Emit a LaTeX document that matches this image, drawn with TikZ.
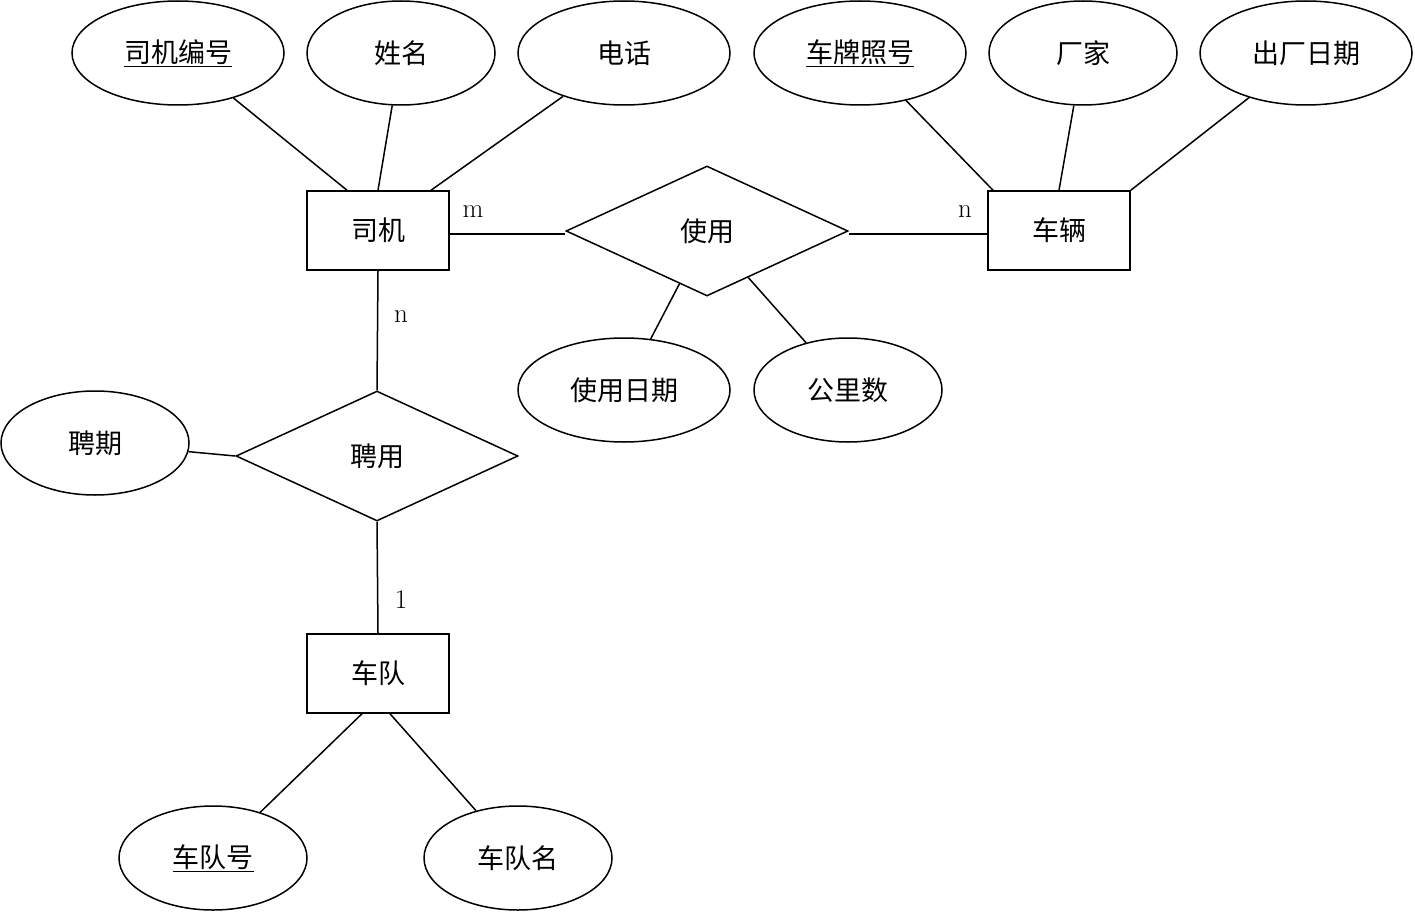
\documentclass[tikz,border=0pt]{standalone}
\usepackage{fontspec}
\usetikzlibrary{shapes.geometric}
\newfontfamily\cjk{Noto Sans CJK SC}
\begin{document}
\begin{tikzpicture}[x=1pt,y=-1pt,
  attr/.style={draw,line width=1.5pt,ellipse,minimum width=#1,minimum height=104pt,inner sep=0pt,font=\cjk\fontsize{27}{30}\selectfont},
  attr/.default=212pt,
  ent/.style={draw,line width=1.5pt,minimum width=142pt,minimum height=79pt,inner sep=0pt,font=\cjk\fontsize{27}{30}\selectfont},
  rel/.style={draw,line width=1.5pt,diamond,aspect=2.17,minimum width=282pt,minimum height=130pt,inner sep=0pt,font=\cjk\fontsize{27}{30}\selectfont},
  lab/.style={font=\fontsize{27}{30}\selectfont},
  every path/.style={line width=1.5pt}]
\useasboundingbox (0,0) rectangle (1415,915);
\node[attr] (a1) at (178,53) {\underline{司机编号}};
\node[attr=188pt] (a2) at (401,53) {姓名};
\node[attr] (a3) at (624,53) {电话};
\node[attr] (b1) at (860,53) {\underline{车牌照号}};
\node[attr=188pt] (b2) at (1083,53) {厂家};
\node[attr] (b3) at (1306,53) {出厂日期};
\node[attr] (u1) at (624,390) {使用日期};
\node[attr=188pt] (u2) at (848,390) {公里数};
\node[attr=188pt] (p1) at (95,443) {聘期};
\node[attr=188pt] (t1) at (213,858) {\underline{车队号}};
\node[attr=188pt] (t2) at (518,858) {车队名};
\node[ent] (sj) at (378,230.5) {司机};
\node[ent] (cl) at (1059,230.5) {车辆};
\node[ent] (cd) at (378,673.5) {车队};
\node[rel] (sy) at (707,231) {使用};
\node[rel] (py) at (377,456) {聘用};
\draw (a1) -- (sj.north west -| 347,0);
\draw (a1.south) ++(27,0) coordinate (c1);
\draw (a2) -- (sj.north);
\draw (a3) -- (sj.north east -| 431,0);
\draw (b1) -- (cl.north west -| 993,0);
\draw (b2) -- (cl.north);
\draw (b3) -- (cl.north east);
\draw (sj.east |- 0,234) -- (sy.west |- 0,234);
\draw (sy.east |- 0,234) -- (cl.west |- 0,234);
\draw (sy) -- (u1);
\draw (sy) -- (u2);
\draw (sj.south) -- (py.north);
\draw (py.south) -- (cd.north);
\draw (p1) -- (py.west);
\draw (cd.south -| 362,0) -- (t1);
\draw (cd.south -| 390,0) -- (t2);
\node[lab] (m1) at (473,212) {m};
\node[lab] (m2) at (965,212) {n};
\node[lab] (m3) at (401,317) {n};
\node[lab] (m4) at (401,600) {1};
\end{tikzpicture}
\end{document}
